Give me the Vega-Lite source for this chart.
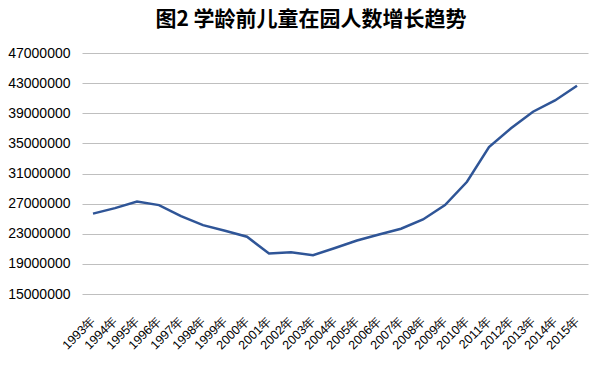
{
  "$schema": "https://vega.github.io/schema/vega-lite/v6.json",
  "width": 506,
  "height": 241,
  "autosize": "none",
  "padding": {"left": 82, "top": 53, "right": 18, "bottom": 71},
  "background": "white",
  "title": {
    "text": "图2  学龄前儿童在园人数增长趋势",
    "font": "Noto Sans CJK SC",
    "fontSize": 21,
    "fontWeight": "bold",
    "color": "#000000",
    "anchor": "middle",
    "frame": "group",
    "dx": -24,
    "offset": 16
  },
  "data": {
    "values": [
      {"year": "1993年", "v": 25670000},
      {"year": "1994年", "v": 26400000},
      {"year": "1995年", "v": 27270000},
      {"year": "1996年", "v": 26800000},
      {"year": "1997年", "v": 25350000},
      {"year": "1998年", "v": 24150000},
      {"year": "1999年", "v": 23400000},
      {"year": "2000年", "v": 22600000},
      {"year": "2001年", "v": 20370000},
      {"year": "2002年", "v": 20550000},
      {"year": "2003年", "v": 20150000},
      {"year": "2004年", "v": 21100000},
      {"year": "2005年", "v": 22100000},
      {"year": "2006年", "v": 22900000},
      {"year": "2007年", "v": 23670000},
      {"year": "2008年", "v": 24900000},
      {"year": "2009年", "v": 26800000},
      {"year": "2010年", "v": 29900000},
      {"year": "2011年", "v": 34500000},
      {"year": "2012年", "v": 37000000},
      {"year": "2013年", "v": 39200000},
      {"year": "2014年", "v": 40700000},
      {"year": "2015年", "v": 42650000}
    ]
  },
  "mark": {"type": "line", "color": "#2F5597", "strokeWidth": 2.5},
  "encoding": {
    "x": {
      "field": "year",
      "type": "ordinal",
      "sort": null,
      "scale": {"paddingInner": 0, "paddingOuter": 0.5},
      "axis": {
        "title": null,
        "labelAngle": -45,
        "labelAlign": "right",
        "labelBaseline": "middle",
        "labelPadding": 24,
        "labelFont": "Liberation Sans",
        "labelFontSize": 12.5,
        "labelColor": "#000000",
        "ticks": false,
        "domain": false,
        "grid": false
      }
    },
    "y": {
      "field": "v",
      "type": "quantitative",
      "scale": {"domain": [15000000, 47000000], "nice": false, "zero": false},
      "axis": {
        "title": null,
        "values": [15000000, 19000000, 23000000, 27000000, 31000000, 35000000, 39000000, 43000000, 47000000],
        "format": "d",
        "labelFont": "Liberation Sans",
        "labelFontSize": 14,
        "labelColor": "#000000",
        "labelPadding": 12,
        "ticks": false,
        "domain": false,
        "grid": true,
        "gridColor": "#BFBFBF",
        "gridWidth": 1
      }
    }
  },
  "config": {"view": {"stroke": null}}
}
